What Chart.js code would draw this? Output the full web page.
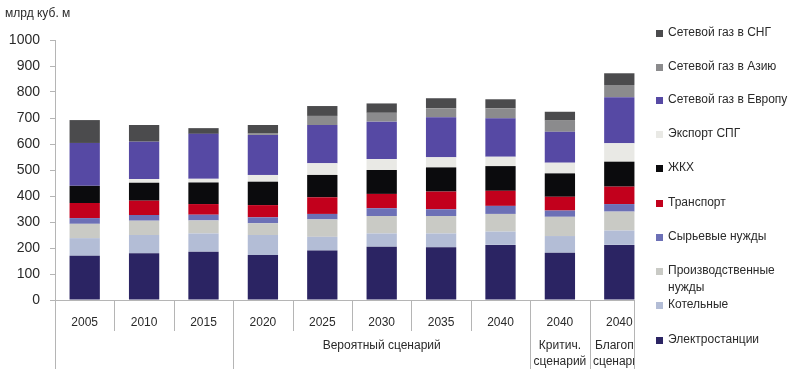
<!DOCTYPE html>
<html>
<head>
<meta charset="utf-8">
<script src="https://cdn.jsdelivr.net/npm/chart.js@4/dist/chart.umd.min.js"></script>
<style>
  html, body { margin: 0; padding: 0; background: #fff; }
  #wrap { position: relative; width: 805px; height: 369px; }
  canvas { display: block; }
</style>
</head>
<body>
<div id="wrap"><canvas id="c" width="805" height="369"></canvas></div>
<script>
// Gas consumption and export structure, bcm
const categories = ['2005', '2010', '2015', '2020', '2025', '2030', '2035', '2040', '2040', '2040'];

const electro    = [170, 180, 186, 173, 190, 205, 203, 212, 182, 212];
const boilers    = [ 68,  70,  70,  77,  53,  51,  53,  51,  64,  55];
const production = [ 55,  55,  50,  45,  67,  67,  67,  68,  74,  73];
const feedstock  = [ 22,  22,  22,  23,  21,  30,  26,  31,  24,  29];
const transport  = [ 58,  55,  41,  47,  64,  55,  68,  58,  53,  67];
const housing    = [ 66,  69,  83,  90,  86,  92,  93,  95,  90,  96];
const lngExport  = [  0,  14,  14,  26,  45,  42,  39,  36,  41,  71];
const pipeEurope = [165, 144, 173, 154, 147, 144, 154, 148, 119, 177];
const pipeAsia   = [  0,   0,   0,   5,  35,  34,  34,  38,  43,  47];
const pipeCIS    = [ 88,  64,  22,  33,  38,  36,  39,  35,  34,  45];

const yTicks = [0, 100, 200, 300, 400, 500, 600, 700, 800, 900, 1000];

const seriesNames = [
  'Электростанции', 'Котельные', 'Производственные нужды', 'Сырьевые нужды',
  'Транспорт', 'ЖКХ', 'Экспорт СПГ', 'Сетевой газ в Европу',
  'Сетевой газ в Азию', 'Сетевой газ в СНГ'
];
const seriesData = [electro, boilers, production, feedstock, transport,
  housing, lngExport, pipeEurope, pipeAsia, pipeCIS];
const seriesColors = ['#2b2463', '#b3bdd6', '#c9cac5', '#6c70b6', '#c2001c',
  '#0b0b0d', '#e9e9e5', '#5649a4', '#8b8b8d', '#4b4b4d'];

// scenario groups under the year row: [first index, last index, label lines]
const groups = [
  [0, 2, []],
  [3, 7, ['Вероятный сценарий']],
  [8, 8, ['Критич.', 'сценарий']],
  [9, 9, ['Благопр.', 'сценарий']]
];

const FONT = '"Liberation Sans", Arial, sans-serif';
const TEXT = '#2a2a2a';
const LINE = '#b5b5b5';
const CLIP_X = 634;   // the legend panel starts here

const decorations = {
  id: 'decorations',
  afterDraw(chart) {
    const ctx = chart.ctx;
    const area = chart.chartArea;
    const x = chart.scales.x;
    const n = categories.length;
    const bounds = [area.left];
    for (let i = 0; i < n - 1; i++) {
      bounds.push((x.getPixelForValue(i) + x.getPixelForValue(i + 1)) / 2);
    }
    bounds.push(area.right);

    ctx.save();
    ctx.strokeStyle = LINE;
    ctx.lineWidth = 1;
    const groupEdges = new Set();
    groups.forEach(g => { groupEdges.add(g[0]); groupEdges.add(g[1] + 1); });
    for (let i = 0; i <= n; i++) {
      const bx = Math.round(bounds[i]) + 0.5;
      const bottom = groupEdges.has(i) ? 369 : 331;
      ctx.beginPath();
      ctx.moveTo(bx, area.bottom);
      ctx.lineTo(bx, bottom);
      ctx.stroke();
    }

    ctx.fillStyle = TEXT;
    ctx.font = '12px ' + FONT;
    ctx.textAlign = 'center';
    ctx.textBaseline = 'middle';
    groups.forEach(g => {
      const cx = (bounds[g[0]] + bounds[g[1] + 1]) / 2;
      g[2].forEach((t, k) => ctx.fillText(t, cx, 346 + k * 16));
    });

    // legend panel
    ctx.fillStyle = '#ffffff';
    ctx.fillRect(CLIP_X + 1, 0, 805 - CLIP_X, 369);
    ctx.strokeStyle = LINE;
    ctx.beginPath();
    ctx.moveTo(CLIP_X + 0.5, area.bottom);
    ctx.lineTo(CLIP_X + 0.5, 369);
    ctx.stroke();

    const legendRows = [
      [9, [33]], [8, [67]], [7, [100]], [6, [134]], [5, [168]],
      [4, [203]], [3, [237]], [2, [271, 288]], [1, [305]], [0, [340]]
    ];
    const labelLines = {2: ['Производственные', 'нужды']};
    ctx.textAlign = 'left';
    ctx.font = '12px ' + FONT;
    legendRows.forEach(([idx, ys]) => {
      ctx.fillStyle = seriesColors[idx];
      ctx.fillRect(656, ys[0] - 3, 7, 7);
      ctx.fillStyle = TEXT;
      const lines = labelLines[idx] || [seriesNames[idx]];
      lines.forEach((t, k) => ctx.fillText(t, 668, ys[k]));
    });

    // axis title
    ctx.font = '12px ' + FONT;
    ctx.fillStyle = TEXT;
    ctx.fillText('млрд куб. м', 5, 14);
    ctx.restore();
  }
};

new Chart(document.getElementById('c'), {
  type: 'bar',
  data: {
    labels: categories,
    datasets: seriesNames.map((name, i) => ({
      label: name,
      data: seriesData[i],
      backgroundColor: seriesColors[i],
      borderWidth: 0,
      barPercentage: 0.51,
      categoryPercentage: 1
    }))
  },
  options: {
    responsive: false,
    animation: false,
    devicePixelRatio: 1,
    layout: { padding: { top: 40, right: 156, left: 0, bottom: 0 } },
    plugins: { legend: { display: false }, tooltip: { enabled: false } },
    scales: {
      x: {
        stacked: true,
        afterFit: s => { s.height = 69; },
        grid: { display: true, drawOnChartArea: false, drawTicks: false },
        border: { display: true, color: LINE },
        ticks: { color: TEXT, font: { family: FONT, size: 12 }, padding: 15, maxRotation: 0, autoSkip: false }
      },
      y: {
        stacked: true,
        min: 0,
        max: 1000,
        afterFit: s => { s.width = 55; },
        afterBuildTicks: s => { s.ticks = yTicks.map(v => ({ value: v })); },
        grid: { display: true, drawOnChartArea: false, drawTicks: true, tickLength: 5, color: LINE },
        border: { display: true, color: LINE },
        ticks: { color: TEXT, font: { family: FONT, size: 14 }, padding: 10, callback: v => String(v) }
      }
    }
  },
  plugins: [decorations]
});
</script>
</body>
</html>
